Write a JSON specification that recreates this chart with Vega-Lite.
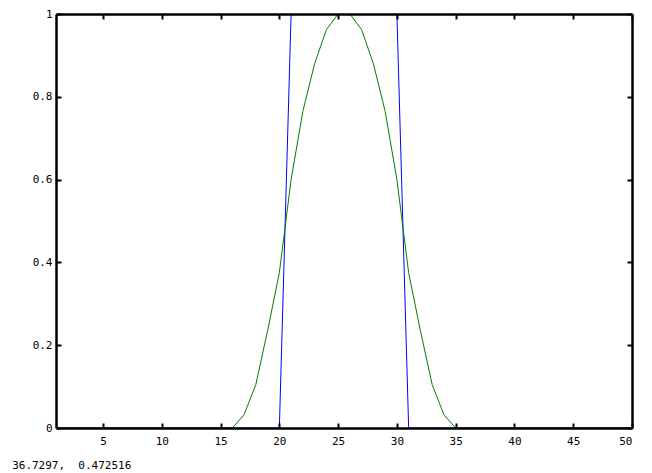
{
  "$schema": "https://vega.github.io/schema/vega-lite/v6.json",
  "autosize": {"type": "none"},
  "width": 576,
  "height": 414,
  "padding": {"left": 56, "top": 14, "right": 20, "bottom": 45},
  "background": "white",
  "title": {
    "text": "36.7297,\u00a0 0.472516",
    "orient": "bottom",
    "anchor": "start",
    "font": "DejaVu Sans Mono",
    "fontSize": 11,
    "fontWeight": "normal",
    "color": "black",
    "dx": -20,
    "offset": 14
  },
  "config": {
    "view": {"stroke": null},
    "axis": {
      "grid": false,
      "title": null,
      "domainColor": "black",
      "domainWidth": 2,
      "tickColor": "black",
      "tickWidth": 2,
      "tickSize": -5,
      "labelFont": "DejaVu Sans Mono",
      "labelFontSize": 11,
      "labelColor": "black",
      "zindex": 1
    }
  },
  "data": {
    "values": [
      {"x": 1, "y": 0, "series": "blue"}, {"x": 2, "y": 0, "series": "blue"}, {"x": 3, "y": 0, "series": "blue"}, {"x": 4, "y": 0, "series": "blue"}, {"x": 5, "y": 0, "series": "blue"},
      {"x": 6, "y": 0, "series": "blue"}, {"x": 7, "y": 0, "series": "blue"}, {"x": 8, "y": 0, "series": "blue"}, {"x": 9, "y": 0, "series": "blue"}, {"x": 10, "y": 0, "series": "blue"},
      {"x": 11, "y": 0, "series": "blue"}, {"x": 12, "y": 0, "series": "blue"}, {"x": 13, "y": 0, "series": "blue"}, {"x": 14, "y": 0, "series": "blue"}, {"x": 15, "y": 0, "series": "blue"},
      {"x": 16, "y": 0, "series": "blue"}, {"x": 17, "y": 0, "series": "blue"}, {"x": 18, "y": 0, "series": "blue"}, {"x": 19, "y": 0, "series": "blue"}, {"x": 20, "y": 0, "series": "blue"},
      {"x": 21, "y": 1, "series": "blue"}, {"x": 22, "y": 1, "series": "blue"}, {"x": 23, "y": 1, "series": "blue"}, {"x": 24, "y": 1, "series": "blue"}, {"x": 25, "y": 1, "series": "blue"},
      {"x": 26, "y": 1, "series": "blue"}, {"x": 27, "y": 1, "series": "blue"}, {"x": 28, "y": 1, "series": "blue"}, {"x": 29, "y": 1, "series": "blue"}, {"x": 30, "y": 1, "series": "blue"},
      {"x": 31, "y": 0, "series": "blue"}, {"x": 32, "y": 0, "series": "blue"}, {"x": 33, "y": 0, "series": "blue"}, {"x": 34, "y": 0, "series": "blue"}, {"x": 35, "y": 0, "series": "blue"},
      {"x": 36, "y": 0, "series": "blue"}, {"x": 37, "y": 0, "series": "blue"}, {"x": 38, "y": 0, "series": "blue"}, {"x": 39, "y": 0, "series": "blue"}, {"x": 40, "y": 0, "series": "blue"},
      {"x": 41, "y": 0, "series": "blue"}, {"x": 42, "y": 0, "series": "blue"}, {"x": 43, "y": 0, "series": "blue"}, {"x": 44, "y": 0, "series": "blue"}, {"x": 45, "y": 0, "series": "blue"},
      {"x": 46, "y": 0, "series": "blue"}, {"x": 47, "y": 0, "series": "blue"}, {"x": 48, "y": 0, "series": "blue"}, {"x": 49, "y": 0, "series": "blue"}, {"x": 50, "y": 0, "series": "blue"},
      {"x": 1, "y": 0, "series": "green"}, {"x": 2, "y": 0, "series": "green"}, {"x": 3, "y": 0, "series": "green"}, {"x": 4, "y": 0, "series": "green"}, {"x": 5, "y": 0, "series": "green"},
      {"x": 6, "y": 0, "series": "green"}, {"x": 7, "y": 0, "series": "green"}, {"x": 8, "y": 0, "series": "green"}, {"x": 9, "y": 0, "series": "green"}, {"x": 10, "y": 0, "series": "green"},
      {"x": 11, "y": 0, "series": "green"}, {"x": 12, "y": 0, "series": "green"}, {"x": 13, "y": 0, "series": "green"}, {"x": 14, "y": 0, "series": "green"}, {"x": 15, "y": 0, "series": "green"},
      {"x": 16, "y": 0, "series": "green"}, {"x": 17, "y": 0.032, "series": "green"}, {"x": 18, "y": 0.105, "series": "green"}, {"x": 19, "y": 0.235, "series": "green"}, {"x": 20, "y": 0.375, "series": "green"},
      {"x": 21, "y": 0.6, "series": "green"}, {"x": 22, "y": 0.765, "series": "green"}, {"x": 23, "y": 0.88, "series": "green"}, {"x": 24, "y": 0.962, "series": "green"}, {"x": 25, "y": 1, "series": "green"},
      {"x": 26, "y": 1, "series": "green"}, {"x": 27, "y": 0.962, "series": "green"}, {"x": 28, "y": 0.88, "series": "green"}, {"x": 29, "y": 0.765, "series": "green"}, {"x": 30, "y": 0.6, "series": "green"},
      {"x": 31, "y": 0.375, "series": "green"}, {"x": 32, "y": 0.235, "series": "green"}, {"x": 33, "y": 0.105, "series": "green"}, {"x": 34, "y": 0.032, "series": "green"}, {"x": 35, "y": 0, "series": "green"},
      {"x": 36, "y": 0, "series": "green"}, {"x": 37, "y": 0, "series": "green"}, {"x": 38, "y": 0, "series": "green"}, {"x": 39, "y": 0, "series": "green"}, {"x": 40, "y": 0, "series": "green"},
      {"x": 41, "y": 0, "series": "green"}, {"x": 42, "y": 0, "series": "green"}, {"x": 43, "y": 0, "series": "green"}, {"x": 44, "y": 0, "series": "green"}, {"x": 45, "y": 0, "series": "green"},
      {"x": 46, "y": 0, "series": "green"}, {"x": 47, "y": 0, "series": "green"}, {"x": 48, "y": 0, "series": "green"}, {"x": 49, "y": 0, "series": "green"}, {"x": 50, "y": 0, "series": "green"}
    ]
  },
  "layer": [
    {
      "transform": [{"filter": "datum.series === 'blue'"}],
      "mark": {"type": "line", "color": "#0000ff", "strokeWidth": 1, "clip": true},
      "encoding": {
        "x": {"field": "x", "type": "quantitative", "scale": {"domain": [1, 50], "nice": false, "zero": false},
              "axis": {"orient": "bottom", "values": [5, 10, 15, 20, 25, 30, 35, 40, 45, 50], "labelPadding": 12, "domainWidth": 2.5, "domainColor": "black", "tickWidth": 2, "tickSize": -5, "tickColor": "black", "zindex": 2}},
        "y": {"field": "y", "type": "quantitative", "scale": {"domain": [0, 1], "nice": false},
              "axis": {"orient": "left", "values": [0, 0.2, 0.4, 0.6, 0.8, 1], "labelPadding": 9, "format": "~g", "domainWidth": 2.5, "domainColor": "black", "tickWidth": 2, "tickSize": -5, "tickColor": "black", "zindex": 2}}
      }
    },
    {
      "transform": [{"filter": "datum.series === 'green'"}],
      "mark": {"type": "line", "color": "#008000", "strokeWidth": 1, "clip": true},
      "encoding": {
        "x": {"field": "x", "type": "quantitative", "scale": {"domain": [1, 50], "nice": false, "zero": false},
              "axis": {"orient": "top", "values": [5, 10, 15, 20, 25, 30, 35, 40, 45, 50], "labels": false, "domainWidth": 2.5, "domainColor": "black", "tickWidth": 2, "tickSize": -5, "tickColor": "black", "zindex": 2}},
        "y": {"field": "y", "type": "quantitative", "scale": {"domain": [0, 1], "nice": false},
              "axis": {"orient": "right", "values": [0, 0.2, 0.4, 0.6, 0.8, 1], "labels": false, "domainWidth": 2.5, "domainColor": "black", "tickWidth": 2, "tickSize": -5, "tickColor": "black", "zindex": 2}}
      }
    }
  ],
  "resolve": {"axis": {"x": "independent", "y": "independent"}}
}
